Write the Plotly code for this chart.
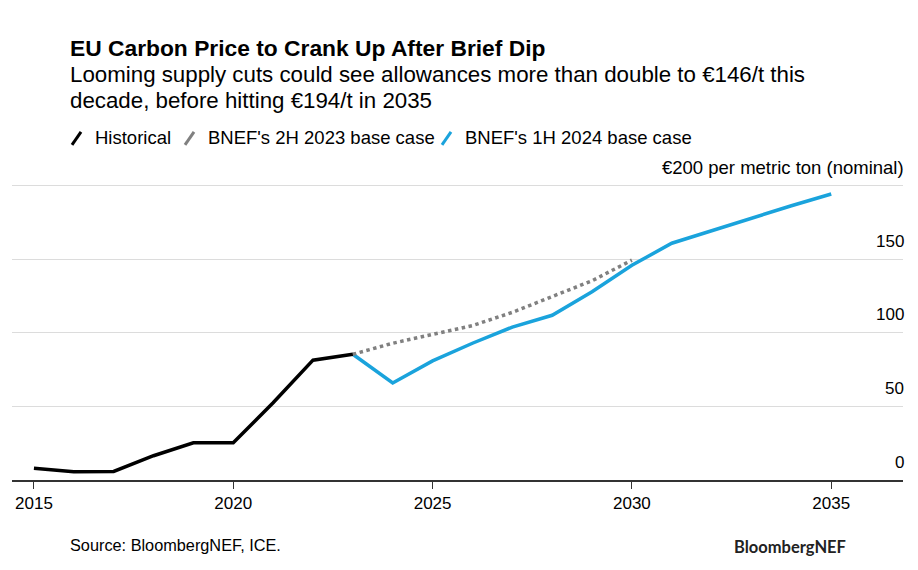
import plotly.graph_objects as go

years_hist = [2015, 2016, 2017, 2018, 2019, 2020, 2021, 2022, 2023]
price_hist = [8.0, 5.6, 5.8, 16.5, 25.3, 25.3, 52.5, 81.5, 85.5]

years_2h23 = [2023, 2024, 2025, 2026, 2027, 2028, 2029, 2030]
price_2h23 = [85.5, 93, 99, 105, 114, 124.5, 135.5, 149.5]

years_1h24 = [2023, 2024, 2025, 2026, 2027, 2028, 2029, 2030, 2031, 2032, 2033, 2034, 2035]
price_1h24 = [85.5, 66, 81, 93, 104, 112, 128, 146, 161, 169.5, 178.5, 186.5, 194.5]

series_names = ["Historical", "BNEF's 2H 2023 base case", "BNEF's 1H 2024 base case"]
series_colors = ["#000000", "#808080", "#1aa3dc"]

y_ticks = [0, 50, 100, 150, 200]
y_ticktext = ["0", "50", "100", "150", "€200 per metric ton (nominal)"]
x_ticks = [2015, 2020, 2025, 2030, 2035]

OFF = 8  # page offset of the rendered figure
W, H = 918 - OFF, 570 - OFF
Y_MAX = 204
L, R, B = 12, 903, 480  # plot area in reference pixels
PX_PER_UNIT = 73.5 / 50
T = B - Y_MAX * PX_PER_UNIT
FONT = "Liberation Sans"


def px(x):
    return (x - L) / (R - L)


def py(y):
    return (B - y) / (B - T)


fig = go.Figure()
fig.add_trace(go.Scatter(x=years_1h24, y=price_1h24, mode="lines",
                         line=dict(color=series_colors[2], width=3.5), name=series_names[2]))
fig.add_trace(go.Scatter(x=years_2h23, y=price_2h23, mode="lines",
                         line=dict(color=series_colors[1], width=3.5, dash="dot"), name=series_names[1]))
fig.add_trace(go.Scatter(x=years_hist, y=price_hist, mode="lines",
                         line=dict(color=series_colors[0], width=3.5), name=series_names[0]))

annotations = [
    dict(text="<b>EU Carbon Price to Crank Up After Brief Dip</b>", x=px(68), y=py(48),
         xanchor="left", yanchor="middle", font=dict(size=22.8, color="#000")),
    dict(text="Looming supply cuts could see allowances more than double to €146/t this", x=px(68), y=py(75),
         xanchor="left", yanchor="middle", font=dict(size=22.3, color="#000")),
    dict(text="decade, before hitting €194/t in 2035", x=px(68), y=py(101),
         xanchor="left", yanchor="middle", font=dict(size=22.3, color="#000")),
    dict(text="Source: BloombergNEF, ICE.", x=px(68), y=py(545),
         xanchor="left", yanchor="middle", font=dict(size=16.3, color="#000")),
    dict(text="BloombergNEF", x=px(848), y=py(547),
         xanchor="right", yanchor="middle",
         font=dict(family="Lato", size=16.5, weight="bold", color="#222")),
]

shapes = []
leg_x = [72, 185, 442]
for i, (name, col) in enumerate(zip(series_names, series_colors)):
    x0 = leg_x[i]
    shapes.append(dict(type="line", xref="paper", yref="paper",
                       x0=px(x0), y0=py(145), x1=px(x0 + 9), y1=py(132),
                       line=dict(color=col, width=3)))
    annotations.append(dict(text=name, x=px(x0 + 21), y=py(138), xanchor="left", yanchor="middle",
                            font=dict(size=18.5, color="#000")))

for a in annotations:
    a.update(xref="paper", yref="paper", showarrow=False)

# y tick labels drawn right-aligned above their gridlines
for v, t in zip(y_ticks, y_ticktext):
    annotations.append(dict(text=t, x=px(906), xref="paper", y=v, yref="y", yshift=18,
                            xanchor="right", yanchor="middle", showarrow=False,
                            font=dict(size=18.5 if v == 200 else 17, color="#000")))

fig.update_layout(
    width=W, height=H,
    margin=dict(l=L - OFF, r=918 - R, t=T - OFF, b=570 - B, pad=0),
    paper_bgcolor="white", plot_bgcolor="white",
    font=dict(family=FONT, size=17, color="#000"),
    showlegend=False,
    annotations=annotations,
    shapes=shapes,
    xaxis=dict(range=[2014.45, 2036.8], tickvals=x_ticks, ticks="outside", ticklen=7,
               tickcolor="#333", tickwidth=1, showgrid=False, showline=True,
               linecolor="#333", linewidth=1.5, zeroline=False,
               tickfont=dict(size=17, color="#000")),
    yaxis=dict(range=[0, Y_MAX], tickvals=y_ticks, showticklabels=False, side="right",
               showgrid=True, gridcolor="#dcdcdc", gridwidth=1,
               zeroline=False, showline=False, ticks=""),
)

fig.write_html("out.html")
